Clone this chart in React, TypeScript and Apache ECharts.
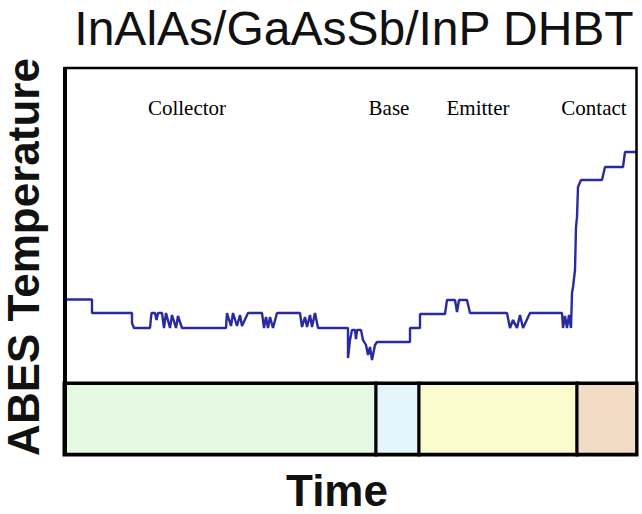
import React, { useEffect, useRef } from "react";
import * as echarts from "echarts";

const TITLE = "InAlAs/GaAsSb/InP DHBT";
const Y_LABEL = "ABES Temperature";
const X_LABEL = "Time";

// Time (s) and ABES temperature (arbitrary units)
const time = [
  0, 28, 28, 68, 68, 70, 86, 87.5, 91, 92.5, 94, 98, 100, 102, 106, 108, 112, 114, 118,
  162, 163, 167, 169, 173, 176, 178, 184, 198, 200, 202, 204, 206, 209, 213,
  236, 238, 241, 243, 246, 248, 251, 254, 284, 284, 286, 288, 291, 292, 293, 297,
  299, 302, 304, 306, 308, 311, 313, 346, 346, 356, 356, 381, 383, 391, 393, 395,
  403, 406, 443, 446, 449, 453, 456, 459, 466, 498, 499, 501, 503, 505, 507,
  508, 509, 511, 512, 513, 514, 517, 538, 541, 559, 561, 573,
];
const temperature = [
  81.5, 81.5, 68, 68, 58, 53, 53, 68, 68, 61, 68, 68, 53, 68, 53, 66, 53, 65, 53,
  53, 68, 55, 68, 55, 66, 55, 68, 68, 53, 64, 53, 64, 53, 68,
  68, 54, 64, 54, 66, 54, 68, 53, 53, 23, 41, 51, 51, 42, 51, 51,
  41, 36, 26, 34, 21, 36, 39, 39, 53, 53, 67, 67, 81, 81, 69, 81,
  81, 68, 68, 53, 61, 53, 66, 53, 68, 68, 53, 65, 53, 66, 53,
  88, 94, 111, 154, 164, 194, 201, 201, 214, 214, 229, 229,
];

const layerNames = ["Collector", "Base", "Emitter", "Contact"];
const layerStart = [0, 312, 355, 513];
const layerEnd = [312, 355, 513, 573];
const layerColors = ["#e5f8e1", "#e3f5fa", "#fbfbce", "#f3dcc5"];

export default function App() {
  const ref = useRef<HTMLDivElement>(null);

  useEffect(() => {
    if (!ref.current) return;
    const chart = echarts.init(ref.current, null, { renderer: "svg" });
    const lineData = time.map((t, i) => [t, temperature[i]]);
    const labelX = [187, 389, 478, 594];

    chart.setOption({
      animation: false,
      backgroundColor: "#ffffff",
      grid: [
        { left: 64, top: 68, width: 573, height: 315 },
        { left: 64, top: 383, width: 573, height: 72 },
      ],
      xAxis: [
        { type: "value", gridIndex: 0, min: 0, max: 573, show: false },
        { type: "value", gridIndex: 1, min: 0, max: 573, show: false },
      ],
      yAxis: [
        { type: "value", gridIndex: 0, min: -2, max: 313, show: false },
        { type: "value", gridIndex: 1, min: 0, max: 1, show: false },
      ],
      series: [
        {
          type: "line",
          xAxisIndex: 0,
          yAxisIndex: 0,
          data: lineData,
          showSymbol: false,
          symbol: "none",
          lineStyle: { color: "#2a2aa0", width: 2.4 },
          z: 5,
        },
        {
          type: "line",
          xAxisIndex: 1,
          yAxisIndex: 1,
          data: [],
          markArea: {
            silent: true,
            data: layerNames.map((n, i) => [
              {
                name: "",
                xAxis: layerStart[i],
                yAxis: 0,
                itemStyle: { color: layerColors[i], borderColor: "#000", borderWidth: 3 },
              },
              { xAxis: layerEnd[i], yAxis: 1 },
            ]),
          },
        },
      ],
      graphic: [
        {
          type: "rect",
          shape: { x: 65.5, y: 68, width: 571, height: 386 },
          style: { fill: "none", stroke: "#000", lineWidth: 2.5 },
          z: 20,
        },
        {
          type: "line",
          shape: { x1: 65, y1: 67, x2: 65, y2: 455 },
          style: { stroke: "#000", lineWidth: 4 },
          z: 20,
        },
        {
          type: "line",
          shape: { x1: 64, y1: 383.5, x2: 637, y2: 383.5 },
          style: { stroke: "#000", lineWidth: 3 },
          z: 20,
        },
        {
          type: "text",
          x: 354,
          y: 28,
          style: {
            text: TITLE,
            font: "normal 48px 'Liberation Sans', Arial, sans-serif",
            fill: "#111",
            align: "center",
            verticalAlign: "middle",
          },
        },
        {
          type: "text",
          x: 23,
          y: 257,
          rotation: Math.PI / 2,
          style: {
            text: Y_LABEL,
            font: "bold 44px 'Liberation Sans', Arial, sans-serif",
            fill: "#111",
            align: "center",
            verticalAlign: "middle",
          },
        },
        {
          type: "text",
          x: 337,
          y: 490,
          style: {
            text: X_LABEL,
            font: "bold 44px 'Liberation Sans', Arial, sans-serif",
            fill: "#111",
            align: "center",
            verticalAlign: "middle",
          },
        },
        ...layerNames.map((n, i) => ({
          type: "text",
          x: labelX[i],
          y: 108,
          style: {
            text: n,
            font: "normal 21px 'Liberation Serif', 'Times New Roman', serif",
            fill: "#000",
            align: "center",
            verticalAlign: "middle",
          },
          z: 10,
        })),
      ],
    });

    return () => chart.dispose();
  }, []);

  return (
    <div
      ref={ref}
      style={{ position: "fixed", left: 0, top: 0, width: 642, height: 514 }}
    />
  );
}
